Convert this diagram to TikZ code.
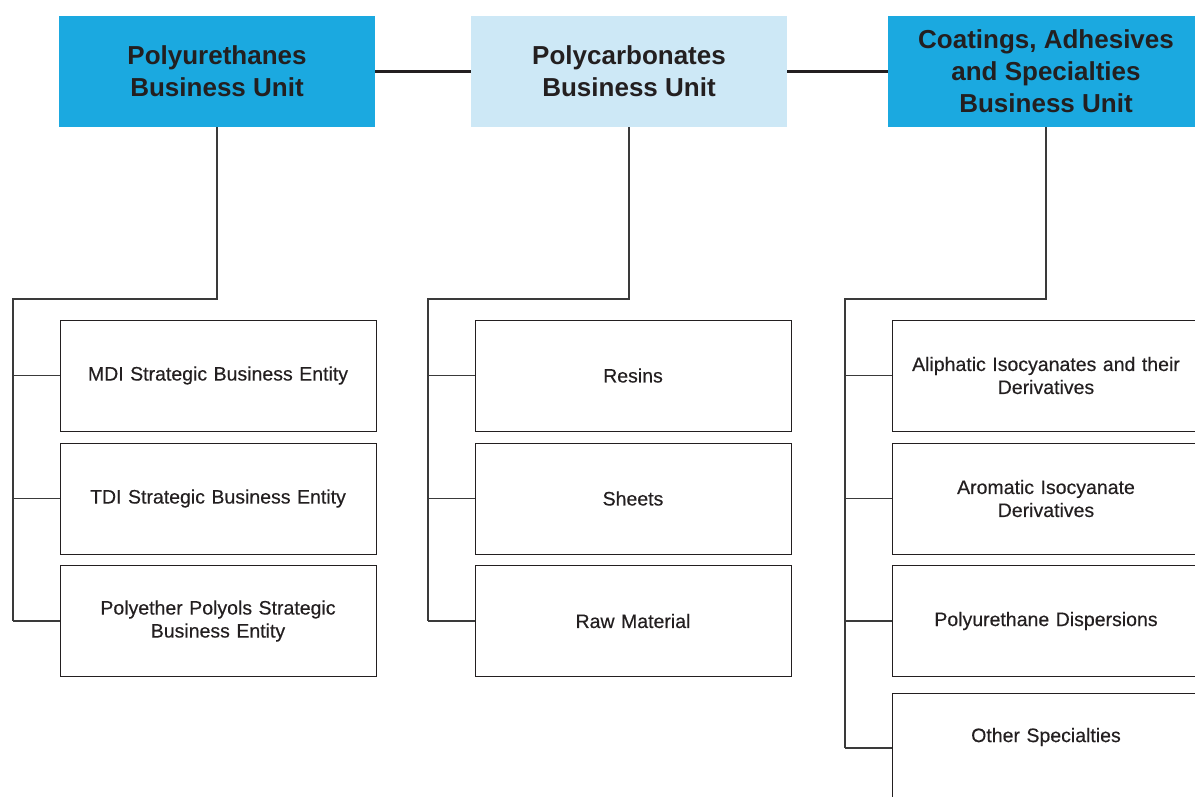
\documentclass[tikz,border=0pt]{standalone}
\usepackage{fontspec}
\setmainfont{Liberation Sans}
\newfontfamily\entityfont{Liberation Sans}[FakeBold=0.35, WordSpace=0.8]
\usetikzlibrary{positioning,calc}
\definecolor{unitblue}{HTML}{1BA9E0}
\definecolor{paleblue}{HTML}{CDE8F6}
\definecolor{inkgray}{HTML}{231F20}
\definecolor{linegray}{HTML}{3A3A3A}

\begin{document}
\begin{tikzpicture}[x=1pt,y=-1pt,
	unit/.style={rectangle, minimum width=316pt, minimum height=111pt, inner sep=0pt, align=center, text=inkgray, font=\fontsize{26}{32}\selectfont\bfseries},
	entity/.style={rectangle, draw=inkgray, line width=0.9pt, minimum width=316pt, minimum height=111pt, inner sep=0pt, align=center, text width=300pt, text=inkgray, font=\entityfont\fontsize{19.5}{23}\selectfont},
	link/.style={draw=linegray, line width=1.1pt},
	bridge/.style={draw=inkgray, line width=2.4pt}]

	\clip (0,0) rectangle (1195,796);

	% business units
	\node[unit,fill=unitblue] (pu) at (217,71.5) {Polyurethanes\\Business Unit};
	\node[unit,fill=paleblue] (pc) at (629,71.5) {Polycarbonates\\Business Unit};
	\node[unit,fill=unitblue] (cas) at (1046,71.5) {Coatings, Adhesives\\and Specialties\\Business Unit};

	\draw[bridge] (pu.east) -- (pc.west);
	\draw[bridge] (pc.east) -- (cas.west);

	% polyurethanes entities
	\node[entity] (mdi) at (218,375.5) {MDI Strategic Business Entity};
	\node[entity] (tdi) at (218,498.5) {TDI Strategic Business Entity};
	\node[entity] (ppol) at (218,621) {Polyether Polyols Strategic\\Business Entity};

	% polycarbonates entities
	\node[entity] (res) at (633,375.5) {Resins};
	\node[entity] (sht) at (633,498.5) {Sheets};
	\node[entity] (raw) at (633,621) {Raw Material};

	% coatings entities
	\node[entity,minimum width=308pt] (ali) at (1046,375.5) {Aliphatic Isocyanates and their\\Derivatives};
	\node[entity,minimum width=308pt] (aro) at (1046,498.5) {Aromatic Isocyanate\\Derivatives};
	\node[entity,minimum width=308pt] (pud) at (1046,621) {Polyurethane Dispersions};
	\node[entity,minimum width=308pt] (oth) at (1046,748.5) {\raisebox{27pt}{Other Specialties}};

	% tree lines
	\coordinate (pu-top) at (13,299);
	\coordinate (pu-bot) at (13,621);
	\coordinate (pc-top) at (428,299);
	\coordinate (pc-bot) at (428,621);
	\coordinate (cas-top) at (845,299);
	\coordinate (cas-bot) at (845,748);

	\draw[link] (pu.south) |- (pu-top) -- (pu-bot);
	\draw[link] (pc.south) |- (pc-top) -- (pc-bot);
	\draw[link] (cas.south) |- (cas-top) -- (cas-bot);

	\foreach \e in {mdi,tdi,ppol}
		\draw[link] (\e.west) -- (\e.west -| pu-top);
	\foreach \e in {res,sht,raw}
		\draw[link] (\e.west) -- (\e.west -| pc-top);
	\foreach \e in {ali,aro,pud}
		\draw[link] (\e.west) -- (\e.west -| cas-top);
	\draw[link] (cas-bot) -- (cas-bot -| oth.west);
\end{tikzpicture}
\end{document}
